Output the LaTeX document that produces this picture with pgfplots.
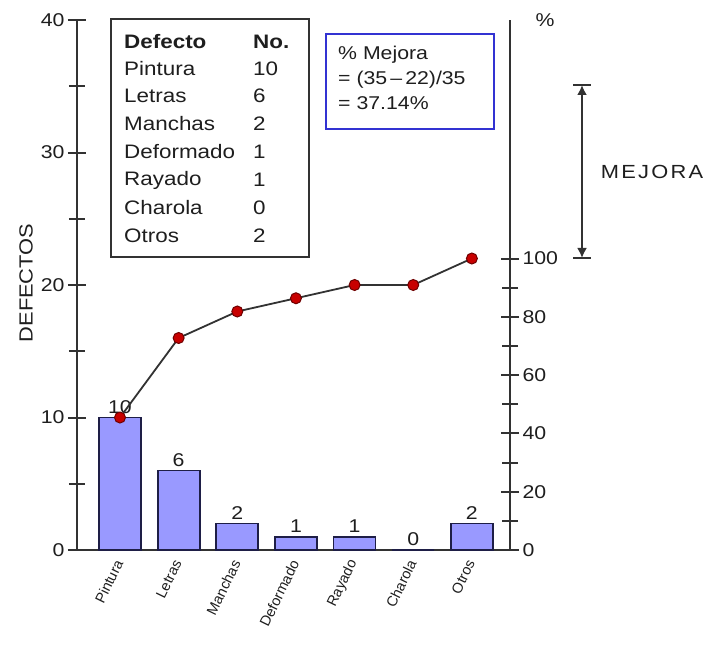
\documentclass[border=0pt]{standalone}
\usepackage{fontspec}
\setmainfont{Liberation Sans}[FakeStretch=1.15]
\newfontfamily\spaced{Liberation Sans}[FakeStretch=1.15,LetterSpace=12]
\newfontfamily\plainsans{Liberation Sans}
\usepackage{pgfplots}
\pgfplotsset{compat=1.18}
\usetikzlibrary{arrows.meta}
\definecolor{barfill}{RGB}{153,153,255}
\definecolor{bardraw}{RGB}{30,30,70}
\definecolor{axisgray}{RGB}{50,50,50}
\definecolor{txt}{RGB}{30,30,30}
\definecolor{boxblue}{RGB}{50,50,210}
\definecolor{ptred}{RGB}{200,0,0}
\newcommand{\fs}[1]{\fontsize{#1}{#1}\selectfont}
\begin{document}
\begin{tikzpicture}[x=1pt,y=1pt]
\path[use as bounding box] (-77,-96) rectangle (645,550);
\begin{axis}[
  scale only axis, width=433pt, height=530pt,
  xmin=-0.733, xmax=6.65, ymin=0, ymax=40,
  axis x line=bottom, axis y line=left,
  axis line style={-, line width=2.5pt, draw=axisgray},
  ybar, bar width=42pt,
  xtick={0,...,6},
  xticklabels={Pintura,Letras,Manchas,Deformado,Rayado,Charola,Otros},
  x tick label style={rotate=64, anchor=east, font=\plainsans\fs{14.5}, text=txt, inner sep=2pt},
  xtick style={draw=none},
  ytick={0,10,20,30,40}, minor ytick={5,15,25,35},
  tick align=center, major tick length=18pt, minor tick length=16pt,
  ytick style={line width=2pt, draw=axisgray},
  minor y tick style={line width=2pt, draw=axisgray},
  y tick label style={font=\fs{18.5}, text=txt},
  /pgf/number format/assume math mode=true,
  clip=false,
  nodes near coords,
  every node near coord/.append style={font=\fs{18.5}, text=txt},
]
\addplot[fill=barfill, draw=bardraw, line width=1.8pt]
  coordinates {(0,10) (1,6) (2,2) (3,1) (4,1) (5,0) (6,2)};
\end{axis}
\begin{axis}[
  scale only axis, width=433pt, height=530pt,
  xmin=-0.733, xmax=6.65, ymin=0, ymax=181.818,
  axis x line=none, axis y line=right,
  axis line style={-, line width=2.5pt, draw=axisgray},
  ytick={0,20,40,60,80,100}, minor ytick={10,30,50,70,90},
  tick align=center, major tick length=18pt, minor tick length=16pt,
  ytick style={line width=2pt, draw=axisgray},
  minor y tick style={line width=2pt, draw=axisgray},
  y tick label style={font=\fs{18.5}, text=txt},
  /pgf/number format/assume math mode=true,
  clip=false,
]
\addplot[draw=axisgray, line width=1.8pt, mark=*, mark size=5.5pt,
  mark options={fill=ptred, draw=ptred!55!black, line width=1pt}]
  coordinates {(0,45.45) (1,72.73) (2,81.82) (3,86.36) (4,90.91) (5,90.91) (6,100)};
\end{axis}
% table box
\draw[line width=2.5pt, draw=axisgray] (34,293) rectangle (232,531);
\begin{scope}[every node/.style={anchor=west, inner sep=0pt, text=txt, font=\fs{19.5}}]
\node at (47,508) {\textbf{Defecto}}; \node at (176,508) {\textbf{No.}};
\node at (47,481) {Pintura};   \node at (176,481) {10};
\node at (47,454) {Letras};    \node at (176,454) {6};
\node at (47,426) {Manchas};   \node at (176,426) {2};
\node at (47,398) {Deformado}; \node at (176,398) {1};
\node at (47,370) {Rayado};    \node at (176,370) {1};
\node at (47,342) {Charola};   \node at (176,342) {0};
\node at (47,314) {Otros};     \node at (176,314) {2};
\end{scope}
% blue box
\draw[line width=1.8pt, draw=boxblue] (249,421) rectangle (417,516);
\begin{scope}[every node/.style={anchor=west, inner sep=0pt, text=txt, font=\fs{18.5}}]
\node at (261,495) {\% Mejora};
\node at (261,470) {= (35\,--\,22)/35};
\node at (261,447) {= 37.14\%};
\end{scope}
% percent label
\node[text=txt, font=\fs{18.5}] at (468,530) {\%};
% mejora arrow
\draw[line width=2pt, draw=axisgray, {Latex[length=10pt,width=10pt]}-{Latex[length=10pt,width=10pt]}] (505,465) -- (505,292);
\draw[line width=2pt, draw=axisgray] (496,465) -- (514,465);
\draw[line width=2pt, draw=axisgray] (496,292) -- (514,292);
\node[text=txt, font=\spaced\fs{19}] at (575,378) {MEJORA};
% y label
\node[text=txt, font=\fs{19}, rotate=90] at (-51,267) {DEFECTOS};
\end{tikzpicture}
\end{document}
